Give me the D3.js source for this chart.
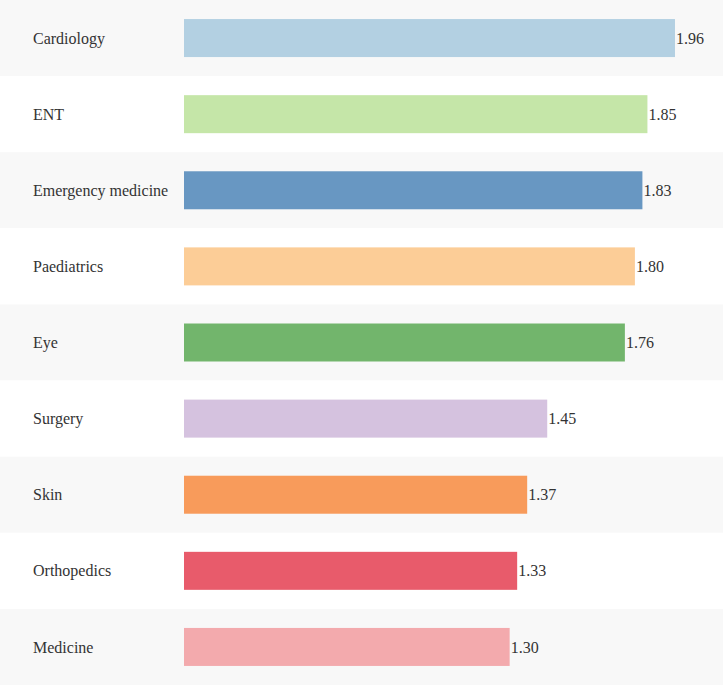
<!DOCTYPE html>
<html><head><meta charset="utf-8">
<script src="https://cdn.jsdelivr.net/npm/d3@7"></script>
<style>body{margin:0;background:#fff} text{font-family:'Liberation Serif','Times New Roman',Times,serif;}</style>
</head><body>
<svg id="c" width="723" height="685"></svg>
<script>
const categories = ["Cardiology","ENT","Emergency medicine","Paediatrics","Eye","Surgery","Skin","Orthopedics","Medicine"];
const values = [1.96,1.85,1.83,1.80,1.76,1.45,1.37,1.33,1.30];
const colors = ["#b3d0e2","#c5e6a8","#6897c2","#fccd97","#72b56c","#d5c2df","#f89b5b","#e85b6b","#f3aaad"];

const W = 723, H = 685;
const svg = d3.select("#c");
const y = d3.scaleBand().domain(categories).range([0, H]).paddingInner(0).paddingOuter(0);
const x = d3.scaleLinear().domain([0, 2]).range([184, 685]);
const barH = 38;

const rows = svg.selectAll("g.row").data(categories).join("g").attr("class","row")
  .attr("transform", d => `translate(0,${y(d)})`);
rows.append("rect").attr("x",0).attr("width",W).attr("height",y.bandwidth())
  .attr("fill",(d,i)=> i%2===0 ? "#f8f8f8" : "#ffffff");
rows.append("rect").attr("x",x(0)).attr("y",(y.bandwidth()-barH)/2)
  .attr("width",(d,i)=>x(values[i])-x(0)).attr("height",barH)
  .attr("fill",(d,i)=>colors[i]);
rows.append("text").attr("x",33).attr("y",y.bandwidth()/2).attr("dy","0.35em")
  .attr("font-size",16).attr("fill","#333").text(d=>d);
rows.append("text").attr("x",(d,i)=>x(values[i])+1).attr("y",y.bandwidth()/2).attr("dy","0.35em")
  .attr("font-size",16).attr("fill","#333").text((d,i)=>values[i].toFixed(2));
</script>
</body></html>
